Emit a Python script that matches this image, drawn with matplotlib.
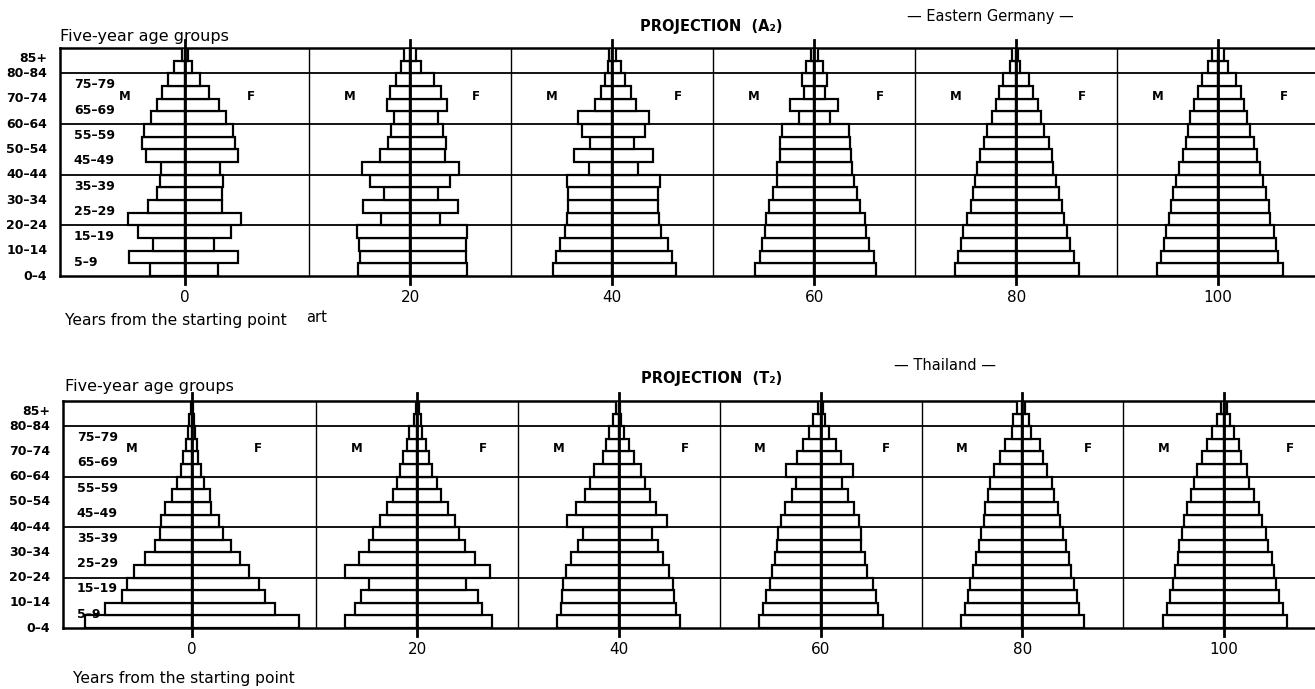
import numpy as np
import matplotlib.pyplot as plt

plt.rcParams['font.family'] = ['DejaVu Sans']

years = [0, 20, 40, 60, 80, 100]
age_groups = ["0–4", "5–9", "10–14", "15–19", "20–24", "25–29", "30–34", "35–39", "40–44",
              "45–49", "50–54", "55–59", "60–64", "65–69", "70–74", "75–79", "80–84", "85+"]

# bar half-widths, youngest group first, one list per projection year
germany_m = [
    [3.45, 5.55, 3.2, 4.7, 5.7, 3.7, 2.8, 2.5, 2.4, 3.9, 4.3, 4.1, 3.4, 2.8, 2.3, 1.7, 1.1, 0.35],
    [5.2, 5.0, 5.1, 5.3, 2.9, 4.7, 2.6, 4.0, 4.8, 3.0, 2.2, 1.9, 1.6, 2.3, 2.0, 1.45, 0.9, 0.6],
    [5.9, 5.6, 5.2, 4.7, 4.5, 4.35, 4.35, 4.5, 2.3, 3.8, 2.2, 3.0, 3.4, 1.7, 1.1, 0.7, 0.4, 0.3],
    [5.9, 5.35, 5.2, 4.9, 4.8, 4.45, 4.1, 3.7, 3.65, 3.4, 3.4, 3.2, 1.55, 2.35, 1.05, 1.2, 0.85, 0.3],
    [6.05, 5.75, 5.5, 5.25, 4.85, 4.5, 4.3, 4.05, 3.9, 3.6, 3.2, 2.85, 2.4, 1.95, 1.7, 1.3, 0.6, 0.4],
    [6.05, 5.65, 5.4, 5.15, 4.9, 4.7, 4.45, 4.2, 3.9, 3.5, 3.2, 2.95, 2.75, 2.4, 1.95, 1.6, 0.95, 0.65],
]
germany_f = [
    [3.2, 5.2, 2.9, 4.5, 5.5, 3.6, 3.6, 3.7, 3.4, 5.2, 4.9, 4.7, 4.0, 3.3, 2.4, 1.5, 0.65, 0.3],
    [5.6, 5.5, 5.5, 5.6, 2.9, 4.7, 2.7, 3.9, 4.8, 3.4, 3.5, 3.2, 2.7, 3.6, 3.0, 2.3, 1.1, 0.6],
    [6.3, 5.9, 5.5, 4.8, 4.6, 4.5, 4.5, 4.7, 2.5, 4.0, 2.2, 3.2, 3.6, 2.35, 1.9, 1.3, 0.85, 0.35],
    [6.1, 5.9, 5.4, 5.1, 5.0, 4.5, 4.2, 3.9, 3.7, 3.6, 3.5, 3.4, 1.6, 2.4, 1.1, 1.3, 0.9, 0.4],
    [6.2, 5.7, 5.3, 5.05, 4.75, 4.5, 4.2, 3.95, 3.7, 3.55, 3.3, 2.8, 2.5, 2.15, 1.7, 1.3, 0.4, 0.15],
    [6.4, 5.95, 5.75, 5.5, 5.15, 5.0, 4.7, 4.5, 4.2, 3.9, 3.55, 3.2, 2.9, 2.6, 2.25, 1.8, 0.95, 0.6],
]
thailand_m = [
    [10.6, 8.6, 7.0, 6.5, 5.8, 4.7, 3.7, 3.2, 3.05, 2.65, 1.95, 1.5, 1.1, 0.9, 0.6, 0.45, 0.3, 0.15],
    [7.1, 6.2, 5.55, 4.75, 7.1, 5.75, 4.75, 4.35, 3.7, 3.0, 2.4, 2.0, 1.7, 1.35, 1.0, 0.8, 0.35, 0.15],
    [6.1, 5.7, 5.6, 5.5, 5.25, 4.7, 4.1, 3.55, 5.15, 4.25, 3.4, 2.9, 2.5, 1.6, 1.3, 0.95, 0.55, 0.3],
    [6.1, 5.75, 5.4, 5.0, 4.8, 4.55, 4.3, 4.2, 3.95, 3.5, 2.85, 2.45, 3.4, 2.35, 1.75, 1.15, 0.75, 0.3],
    [6.05, 5.65, 5.4, 5.15, 4.9, 4.6, 4.35, 4.1, 3.85, 3.7, 3.45, 3.2, 2.8, 2.25, 1.7, 1.05, 0.9, 0.5],
    [6.05, 5.7, 5.35, 5.1, 4.85, 4.6, 4.45, 4.2, 3.95, 3.65, 3.3, 3.0, 2.7, 2.2, 1.7, 1.2, 0.75, 0.3],
]
thailand_f = [
    [10.6, 8.2, 7.2, 6.6, 5.6, 4.7, 3.9, 3.05, 2.7, 1.9, 1.8, 1.2, 0.9, 0.6, 0.45, 0.3, 0.2, 0.1],
    [7.4, 6.45, 6.0, 4.8, 7.25, 5.75, 4.75, 4.2, 3.8, 3.05, 2.4, 1.95, 1.45, 1.2, 0.9, 0.5, 0.35, 0.15],
    [6.05, 5.65, 5.5, 5.4, 5.0, 4.4, 3.9, 3.3, 4.75, 3.65, 3.05, 2.6, 2.15, 1.45, 1.05, 0.5, 0.2, 0.15],
    [6.2, 5.7, 5.45, 5.15, 4.6, 4.4, 3.95, 3.95, 3.8, 3.3, 2.75, 2.15, 3.2, 2.0, 1.5, 0.85, 0.45, 0.2],
    [6.1, 5.65, 5.4, 5.15, 4.85, 4.6, 4.3, 4.05, 3.7, 3.5, 3.15, 2.9, 2.4, 2.0, 1.75, 0.85, 0.65, 0.3],
    [6.25, 5.85, 5.4, 5.15, 4.9, 4.75, 4.3, 4.1, 3.75, 3.45, 3.0, 2.5, 2.25, 1.7, 1.5, 0.95, 0.55, 0.3],
]

W, H = 1315, 689
fig = plt.figure(figsize=(W / 100, H / 100), dpi=100)


def fx(px):
    return px / W


def fy(py):
    return 1 - py / H


def panel(rect, xlim, males, females):
    ax = fig.add_axes(rect)
    ax.set_xlim(*xlim)
    ax.set_ylim(0, 18)
    n = len(age_groups)
    ys = np.arange(n) + 0.5
    centres = []
    for i, yr in enumerate(years):
        cx = yr - 2.3 if i == 0 else yr     # the printed axis squeezes the first pyramid leftwards
        centres.append(cx)
        ax.barh(ys, -np.array(males[i]), left=cx, height=1, color="white",
                edgecolor="black", linewidth=1.6, zorder=3)
        ax.barh(ys, females[i], left=cx, height=1, color="white",
                edgecolor="black", linewidth=1.6, zorder=3)
        ax.plot([cx, cx], [-0.6, 18.6], color="black", lw=2.0, zorder=5, clip_on=False)
        ax.text(cx - 6.0, 14.2, "M", ha="center", va="center", fontsize=8.5, fontweight="bold")
        ax.text(cx + 6.5, 14.2, "F", ha="center", va="center", fontsize=8.5, fontweight="bold")
    for g in [10, 30, 50, 70, 90]:
        ax.axvline(g, color="black", lw=1.0, zorder=1)
    for g in [4, 8, 12, 16]:
        ax.axhline(g, color="black", lw=1.3, zorder=1)
    ax.set_xticks(centres)
    ax.set_xticklabels([str(y) for y in years], fontsize=11)
    ax.tick_params(axis="x", length=0, pad=10)
    ax.set_yticks([])
    for s in ["left", "top", "bottom"]:
        ax.spines[s].set_linewidth(1.8)
    ax.spines["right"].set_visible(False)
    tr = ax.get_yaxis_transform()
    for k, lab in enumerate(age_groups):
        if k == n - 1:
            ax.text(-0.01, 17.2, lab, transform=tr, ha="right", va="center", fontsize=9, fontweight="bold")
        elif k % 2 == 0:
            ax.text(-0.01, k, lab, transform=tr, ha="right", va="center", fontsize=9, fontweight="bold")
        else:
            ax.text(0.011, k + 0.1, lab, transform=tr, ha="left", va="center", fontsize=9, fontweight="bold")
    return ax


panel([fx(60), fy(276), fx(1256), 228 / H], (-14.7, 109.7), germany_m, germany_f)
panel([fx(63), fy(628), fx(1253), 227 / H], (-15.1, 109.1), thailand_m, thailand_f)

fig.text(fx(60), fy(37), "Five-year age groups", fontsize=11.5, va="center", ha="left")
fig.text(fx(711), fy(27), "PROJECTION  (A₂)", fontsize=10.5, fontweight="bold", va="center", ha="center")
fig.text(fx(990), fy(17), "— Eastern Germany —", fontsize=10.5, va="center", ha="center")
fig.text(fx(65), fy(320), "Years from the starting point", fontsize=11.2, va="center", ha="left")
fig.text(fx(306), fy(318), "art", fontsize=10.5, va="center", ha="left")

fig.text(fx(65), fy(387), "Five-year age groups", fontsize=11.5, va="center", ha="left")
fig.text(fx(712), fy(379), "PROJECTION  (T₂)", fontsize=10.5, fontweight="bold", va="center", ha="center")
fig.text(fx(945), fy(365), "— Thailand —", fontsize=10.5, va="center", ha="center")
fig.text(fx(73), fy(678), "Years from the starting point", fontsize=11.2, va="center", ha="left")

fig.savefig("out.png", dpi=100)
